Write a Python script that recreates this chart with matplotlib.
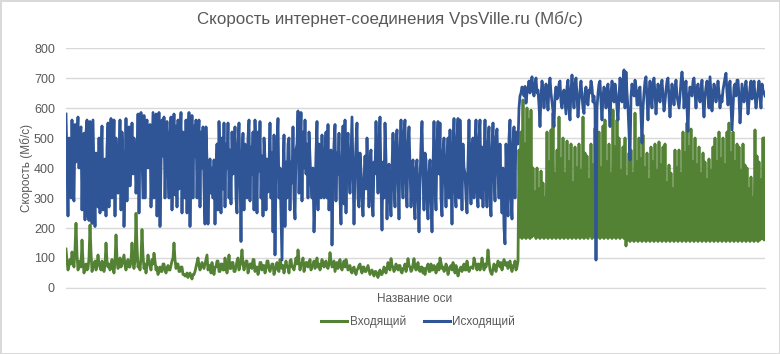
import numpy as np
import matplotlib.pyplot as plt
from matplotlib.lines import Line2D

# Speed samples in Mb/s (about one sample per pixel)
incoming_before = [
    130, 90, 60, 75, 95, 80, 120, 90, 70, 130, 216, 110, 60, 75, 90, 70, 160, 90, 50, 70,
    80, 60, 65, 100, 210, 120, 55, 70, 75, 90, 60, 75, 110, 80, 70, 60, 90, 70, 55, 75,
    150, 90, 70, 80, 60, 75, 95, 65, 50, 85, 177, 100, 65, 80, 100, 70, 80, 95, 110, 75,
    60, 80, 95, 70, 70, 90, 150, 85, 65, 90, 249, 140, 70, 85, 60, 100, 195, 110, 65, 80,
    50, 75, 110, 85, 75, 60, 95, 80, 116, 90, 60, 70, 45, 60, 70, 55, 55, 80, 80, 60,
    50, 65, 75, 60, 60, 75, 90, 100, 150, 95, 65, 80, 80, 55, 55, 70, 70, 45, 45, 40,
    40, 50, 35, 45, 50, 40, 30, 45, 45, 55, 70, 85, 100, 75, 60, 70, 85, 75, 65, 80,
    95, 110, 60, 75, 75, 50, 85, 60, 45, 70, 70, 90, 90, 55, 55, 80, 80, 60, 60, 100,
    75, 50, 75, 110, 65, 65, 85, 85, 55, 55, 70, 90, 100, 60, 75, 90, 127, 80, 60, 75,
    90, 90, 50, 65, 80, 80, 65, 95, 95, 55, 70, 70, 45, 60, 85, 85, 60, 75, 75, 50,
    65, 90, 90, 65, 55, 70, 80, 80, 45, 60, 70, 85, 60, 55, 95, 80, 65, 75, 50, 70,
    90, 70, 70, 50, 90, 95, 70, 70, 60, 80, 100, 80, 127, 95, 60, 80, 80, 100, 55, 70,
    85, 85, 70, 80, 95, 60, 75, 75, 90, 65, 80, 100, 70, 80, 60, 75, 95, 80, 70, 85,
    90, 70, 65, 80, 118, 90, 70, 80, 90, 55, 70, 85, 65, 80, 95, 70, 60, 75, 90, 70,
    95, 80, 60, 70, 75, 55, 50, 65, 70, 55, 45, 60, 65, 75, 80, 60, 50, 70, 70, 55,
    55, 65, 75, 60, 45, 55, 60, 50, 40, 55, 55, 45, 35, 50, 60, 45, 45, 55, 70, 60,
    50, 65, 85, 70, 60, 98, 75, 70, 55, 65, 80, 70, 60, 75, 75, 55, 50, 65, 65, 80,
    55, 70, 98, 75, 70, 55, 60, 80, 98, 70, 60, 70, 85, 60, 55, 70, 70, 50, 65, 45,
    65, 70, 80, 55, 55, 80, 60, 60, 75, 70, 50, 65, 80, 60, 100, 85, 65, 70, 55, 60,
    80, 70, 45, 60, 70, 75, 60, 85, 70, 50, 75, 60, 40, 55, 65, 70, 55, 70, 80, 60,
    60, 90, 70, 55, 65, 70, 70, 65, 100, 85, 75, 60, 80, 80, 60, 75, 100, 80, 60, 80,
    70, 85, 127, 90, 60, 50, 45, 65, 80, 70, 55, 75, 90, 80, 70, 85, 60, 75, 95, 80,
    75, 85, 65, 80, 90, 70, 55, 75, 70, 90, 60, 70]

incoming_after = [
    90, 460, 170, 520, 165, 627, 170, 480, 165, 600, 170, 560, 165, 593, 170, 400, 175, 320, 165, 400,
    170, 330, 165, 390, 170, 350, 165, 300, 170, 520, 165, 420, 170, 527, 165, 583, 170, 380, 165, 460,
    170, 570, 165, 430, 170, 500, 165, 380, 170, 490, 165, 420, 170, 480, 165, 350, 170, 470, 165, 400,
    170, 480, 165, 390, 170, 570, 165, 450, 170, 440, 165, 360, 175, 480, 165, 410, 170, 533, 165, 440,
    170, 520, 165, 400, 170, 540, 165, 560, 170, 420, 165, 480, 170, 380, 165, 593, 170, 470, 165, 560,
    170, 500, 165, 390, 170, 470, 165, 500, 140, 370, 160, 450, 155, 460, 160, 380, 155, 583, 160, 420,
    155, 500, 160, 430, 155, 510, 160, 400, 155, 450, 160, 360, 155, 470, 160, 420, 155, 480, 160, 390,
    155, 487, 160, 410, 155, 470, 160, 480, 155, 350, 160, 410, 155, 383, 160, 330, 155, 460, 160, 400,
    155, 460, 160, 380, 155, 520, 160, 450, 155, 550, 160, 470, 155, 530, 160, 420, 155, 500, 160, 410,
    155, 470, 160, 380, 155, 450, 160, 420, 155, 360, 160, 430, 155, 390, 160, 470, 155, 500, 160, 420,
    155, 520, 160, 430, 155, 500, 160, 410, 155, 520, 160, 550, 155, 450, 160, 520, 155, 420, 160, 480,
    155, 470, 160, 390, 155, 480, 160, 410, 155, 400, 160, 330, 155, 370, 160, 300, 155, 527, 160, 440,
    155, 420, 160, 360, 165, 500, 160, 500]

outgoing_before = [
    580, 420, 240, 500, 380, 300, 560, 310, 290, 545, 420, 500, 570, 400, 520, 537, 260, 480, 516, 227,
    520, 560, 240, 225, 555, 300, 215, 560, 380, 205, 450, 330, 270, 500, 250, 420, 540, 260, 380, 430,
    240, 470, 550, 270, 480, 565, 300, 420, 560, 240, 500, 427, 316, 400, 560, 260, 520, 430, 205, 350,
    565, 290, 480, 537, 340, 420, 550, 380, 500, 460, 316, 400, 580, 250, 500, 585, 450, 300, 575, 300,
    520, 560, 400, 480, 545, 270, 430, 585, 300, 500, 580, 240, 470, 585, 205, 400, 560, 440, 570, 300,
    480, 555, 400, 300, 520, 570, 260, 450, 580, 310, 540, 270, 560, 330, 480, 585, 250, 520, 400, 300,
    560, 250, 480, 585, 205, 430, 575, 300, 540, 440, 560, 300, 480, 560, 270, 520, 400, 537, 330, 213,
    537, 420, 213, 350, 430, 316, 400, 300, 427, 213, 380, 480, 260, 555, 420, 250, 500, 330, 550, 270,
    480, 400, 550, 300, 460, 280, 520, 380, 450, 537, 300, 250, 480, 550, 380, 155, 430, 516, 260, 480,
    420, 300, 500, 560, 290, 470, 380, 520, 260, 560, 430, 250, 520, 390, 555, 300, 440, 240, 500, 430,
    260, 430, 320, 400, 550, 300, 450, 187, 510, 110, 380, 480, 565, 300, 400, 250, 93, 380, 510, 205,
    420, 300, 480, 500, 260, 420, 350, 537, 300, 230, 460, 480, 590, 316, 440, 585, 290, 520, 400, 560,
    380, 480, 300, 520, 430, 350, 300, 400, 187, 300, 450, 555, 260, 480, 400, 300, 510, 330, 300, 450,
    520, 300, 545, 260, 400, 460, 143, 350, 480, 545, 290, 450, 380, 516, 300, 213, 420, 540, 280, 560,
    250, 440, 516, 380, 316, 450, 570, 400, 213, 380, 480, 550, 300, 270, 450, 393, 300, 240, 360, 440,
    330, 500, 380, 270, 430, 460, 300, 240, 420, 380, 555, 420, 316, 480, 570, 350, 193, 420, 300, 550,
    430, 230, 380, 413, 300, 240, 400, 516, 350, 270, 480, 527, 380, 230, 450, 560, 400, 300, 520, 560,
    350, 270, 480, 537, 400, 270, 380, 427, 300, 230, 400, 427, 300, 187, 350, 480, 555, 380, 260, 450,
    427, 300, 230, 380, 427, 300, 187, 400, 555, 350, 260, 480, 555, 380, 550, 300, 240, 450, 500, 380,
    270, 420, 500, 300, 527, 380, 213, 450, 565, 330, 270, 500, 565, 300, 560, 420, 260, 480, 400, 383,
    300, 250, 420, 560, 380, 280, 480, 500, 300, 460, 560, 330, 270, 500, 560, 300, 470, 270, 420, 560,
    350, 270, 480, 537, 300, 240, 460, 550, 380, 290, 500, 530, 400, 300, 480, 350, 250, 400, 200, 147,
    480, 350, 240, 500, 560, 300, 230, 480, 537, 300, 520, 480]

outgoing_after = [
    480, 600, 640, 650, 670, 660, 640, 672, 616, 650, 665, 690, 650, 680, 704, 660, 640, 680, 700, 650,
    660, 610, 538, 640, 690, 660, 600, 650, 680, 640, 593, 670, 700, 650, 620, 590, 538, 640, 670, 630,
    640, 680, 690, 620, 600, 650, 660, 620, 580, 670, 693, 600, 560, 660, 710, 650, 600, 680, 700, 640,
    570, 620, 660, 690, 640, 600, 582, 650, 670, 620, 610, 660, 650, 690, 670, 620, 640, 600, 93, 600,
    650, 680, 690, 620, 560, 640, 670, 650, 600, 660, 680, 620, 538, 650, 690, 660, 620, 680, 650, 600,
    560, 640, 700, 660, 620, 690, 727, 600, 720, 650, 600, 520, 427, 640, 680, 650, 640, 693, 670, 610,
    610, 660, 670, 580, 483, 600, 650, 690, 704, 630, 560, 650, 690, 640, 600, 680, 700, 650, 580, 640,
    680, 650, 620, 670, 693, 640, 590, 620, 660, 690, 700, 630, 570, 640, 680, 650, 610, 660, 693, 640,
    620, 600, 640, 690, 720, 680, 600, 650, 690, 600, 522, 640, 670, 650, 640, 690, 700, 650, 600, 660,
    680, 640, 620, 660, 693, 620, 570, 640, 670, 690, 640, 600, 704, 650, 590, 640, 680, 660, 620, 650,
    690, 650, 600, 640, 620, 660, 680, 700, 716, 650, 610, 660, 690, 610, 527, 600, 670, 680, 640, 693,
    693, 640, 550, 610, 680, 650, 620, 660, 690, 640, 580, 620, 670, 690, 630, 650, 690, 640, 600, 630,
    660, 690, 640, 600, 680, 660, 650, 640]

incoming = incoming_before + incoming_after
outgoing = outgoing_before + outgoing_after
x = np.arange(len(incoming))

green = '#548235'
blue = '#2f5597'
gray = '#595959'

plt.rcParams['font.family'] = ['Liberation Sans', 'DejaVu Sans']

fig = plt.figure(figsize=(7.8, 3.54), dpi=100, edgecolor='#d9d9d9', linewidth=2)
ax = fig.add_axes([66 / 780, 1 - 288 / 354, 699 / 780, 240 / 354])

ax.plot(x, incoming, color=green, lw=2.0)
ax.plot(x, outgoing, color=blue, lw=2.0)

ax.set_xlim(0, len(x) - 1)
ax.set_ylim(0, 800)
ax.set_yticks(range(0, 801, 100))
ax.set_xticks([])
ax.grid(axis='y', color='#d9d9d9', lw=1)
ax.set_axisbelow(True)
for s in ['top', 'right', 'left']:
    ax.spines[s].set_visible(False)
ax.spines['bottom'].set_color('#d9d9d9')
ax.tick_params(axis='y', length=0, pad=8, labelsize=9, labelcolor=gray)

fig.text(0.5, 1 - 19 / 354, 'Скорость интернет-соединения VpsVille.ru (Мб/с)',
         ha='center', va='center', fontsize=12.2, color=gray)
fig.text(415 / 780, 1 - 299 / 354, 'Название оси', ha='center', va='center',
         fontsize=8.5, color=gray)
fig.text(27 / 780, 1 - 168 / 354, 'Скорость (Мб/с)', ha='center', va='center',
         rotation=90, fontsize=8.5, color=gray)

handles = [Line2D([], [], color=green, lw=2.2), Line2D([], [], color=blue, lw=2.2)]
fig.legend(handles, ['Входящий', 'Исходящий'], loc='center', ncol=2,
           bbox_to_anchor=(418 / 780, 1 - 322 / 354), frameon=False,
           fontsize=8.5, labelcolor=gray, handlelength=2.2, handletextpad=0.2,
           columnspacing=1.5)

fig.savefig('out.png', dpi=100)
